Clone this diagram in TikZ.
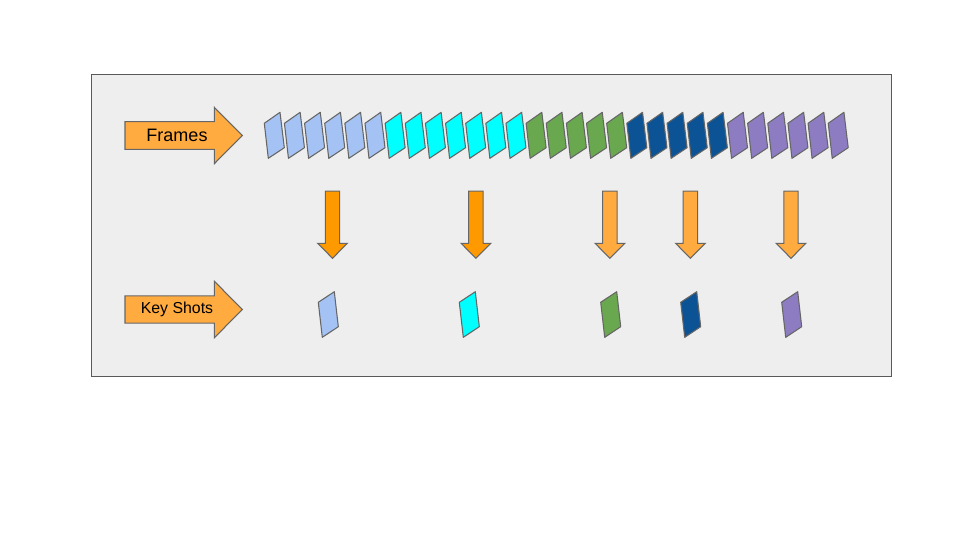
\documentclass[tikz,border=0pt]{standalone}
\usepackage{fontspec}
\setmainfont{Liberation Sans}
\usepackage{tikz}
\usepackage{xcolor}

\definecolor{panelgray}{HTML}{EEEEEE}
\definecolor{edgegray}{HTML}{595959}
\definecolor{lineg}{HTML}{666666}
\definecolor{lblue}{HTML}{A4C2F4}
\definecolor{aqua}{HTML}{00FFFF}
\definecolor{leaf}{HTML}{6AA84F}
\definecolor{navy}{HTML}{0B5394}
\definecolor{lilac}{HTML}{8E7CC3}
\definecolor{orgdark}{HTML}{FF9900}
\definecolor{orglight}{HTML}{FFAB40}

\begin{document}
\begin{tikzpicture}[x=0.75pt, y=-0.75pt,
    panel/.style={draw=edgegray, fill=panelgray, line width=1pt},
    shotbox/.style={draw=lineg, line width=0.8pt, line join=round},
    arrowbox/.style={draw=lineg, line width=0.8pt, line join=miter},
    lbl/.style={inner sep=0pt, anchor=center}]
    \useasboundingbox[fill=white] (0,0) rectangle (960,540);

    % grey panel
    \draw[panel] (91.3,74.3) rectangle (891.3,376.3);

    % arrows on the left
    \draw[arrowbox, fill=orglight] (125,121.6) -- (214.3,121.6) -- (214.3,107.3)
        -- (242.3,135.5) -- (214.3,163.7) -- (214.3,149.4) -- (125,149.4) -- cycle;
    \node[lbl, font=\fontsize{13.5}{16}\selectfont] (framesLbl) at (177,135.5) {Frames};

    \draw[arrowbox, fill=orglight] (125,295.8) -- (214.3,295.8) -- (214.3,281.2)
        -- (242.3,309.5) -- (214.3,337.8) -- (214.3,323.2) -- (125,323.2) -- cycle;
    \node[lbl, font=\fontsize{11.9}{14}\selectfont] (shotsLbl) at (177,309.5) {Key Shots};

    % all frames
    \foreach \c [count=\i from 0] in {lblue,lblue,lblue,lblue,lblue,lblue,
                                     aqua,aqua,aqua,aqua,aqua,aqua,aqua,
                                     leaf,leaf,leaf,leaf,leaf,
                                     navy,navy,navy,navy,navy,
                                     lilac,lilac,lilac,lilac,lilac,lilac}
        \draw[shotbox, fill=\c] ({264.3+20.14*\i},123.3) -- ++(15.7,-11)
            -- ++(4.3,35.4) -- ++(-16,10.6) -- cycle;

    % down arrows
    \foreach \cx/\c in {332.5/orgdark, 475.9/orgdark, 609.9/orglight,
                        690.4/orglight, 791/orglight}
        \draw[arrowbox, fill=\c] ({\cx-7.2},191.2) -- ({\cx+7.2},191.2)
            -- ({\cx+7.2},243.3) -- ({\cx+14.8},243.3) -- (\cx,258.3)
            -- ({\cx-14.8},243.3) -- ({\cx-7.2},243.3) -- cycle;

    % key shots
    \foreach \x/\c in {318.3/lblue, 459.3/aqua, 600.7/leaf, 680.7/navy, 781.7/lilac}
        \draw[shotbox, fill=\c] (\x,302.3) -- ++(16,-10.6)
            -- ++(4,35) -- ++(-16,10.6) -- cycle;
\end{tikzpicture}
\end{document}
